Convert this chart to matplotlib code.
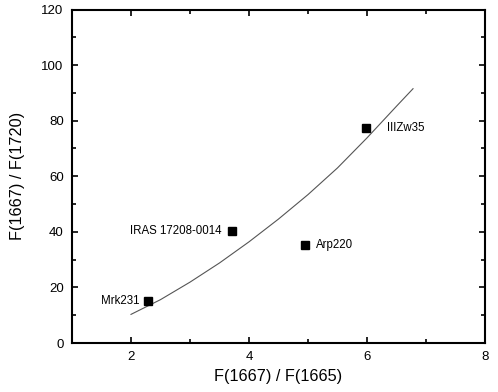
import matplotlib
matplotlib.use('Agg')
import matplotlib.pyplot as plt
from matplotlib.ticker import MultipleLocator

plt.rcParams['font.family'] = ['Liberation Sans', 'DejaVu Sans']

# sources
names = ['Mrk231', 'IRAS 17208-0014', 'Arp220', 'IIIZw35']
ratio_x = [2.29, 3.71, 4.95, 5.99]   # F(1667)/F(1665)
ratio_y = [15.2, 40.3, 35.1, 77.2]   # F(1667)/F(1720)

# fitted curve
curve_x = [2.0, 2.5, 3.0, 3.5, 4.0, 4.5, 5.0, 5.5, 6.0, 6.5, 6.78]
curve_y = [10.3, 15.6, 21.9, 28.8, 36.4, 44.6, 53.4, 63.0, 73.8, 85.2, 91.5]

# label offsets in pixels (dx, dy, ha)
offs = [(-9, 0, 'right'), (-10, 0, 'right'), (11, 0, 'left'), (21, 0, 'left')]

fig = plt.figure(figsize=(4.98, 3.92), dpi=100)
ax = fig.add_axes([72/498, 1-343/392, (485-72)/498, (343-9.5)/392])

ax.plot(curve_x, curve_y, color='#555555', lw=0.8)
ax.plot(ratio_x, ratio_y, 's', color='black', ms=5.3)
for n, x, y, (dx, dy, ha) in zip(names, ratio_x, ratio_y, offs):
    ax.annotate(n, (x, y), xytext=(dx*0.72, dy), textcoords='offset points',
                ha=ha, va='center', fontsize=8.3)

ax.set_xlim(1, 8)
ax.set_ylim(0, 120)
ax.xaxis.set_major_locator(MultipleLocator(2))
ax.xaxis.set_minor_locator(MultipleLocator(1))
ax.yaxis.set_major_locator(MultipleLocator(20))
ax.yaxis.set_minor_locator(MultipleLocator(10))
ax.tick_params(which='both', direction='in', top=True, right=True, width=1.2, labelsize=9.5)
ax.tick_params(which='major', length=4.5, pad=6)
ax.tick_params(which='minor', length=3)
for s in ax.spines.values():
    s.set_linewidth(1.5)

ax.set_xlabel('F(1667) / F(1665)', fontsize=11.7, labelpad=4)
ax.set_ylabel('F(1667) / F(1720)', fontsize=11.7, labelpad=12)

fig.savefig('out.png', dpi=100)
